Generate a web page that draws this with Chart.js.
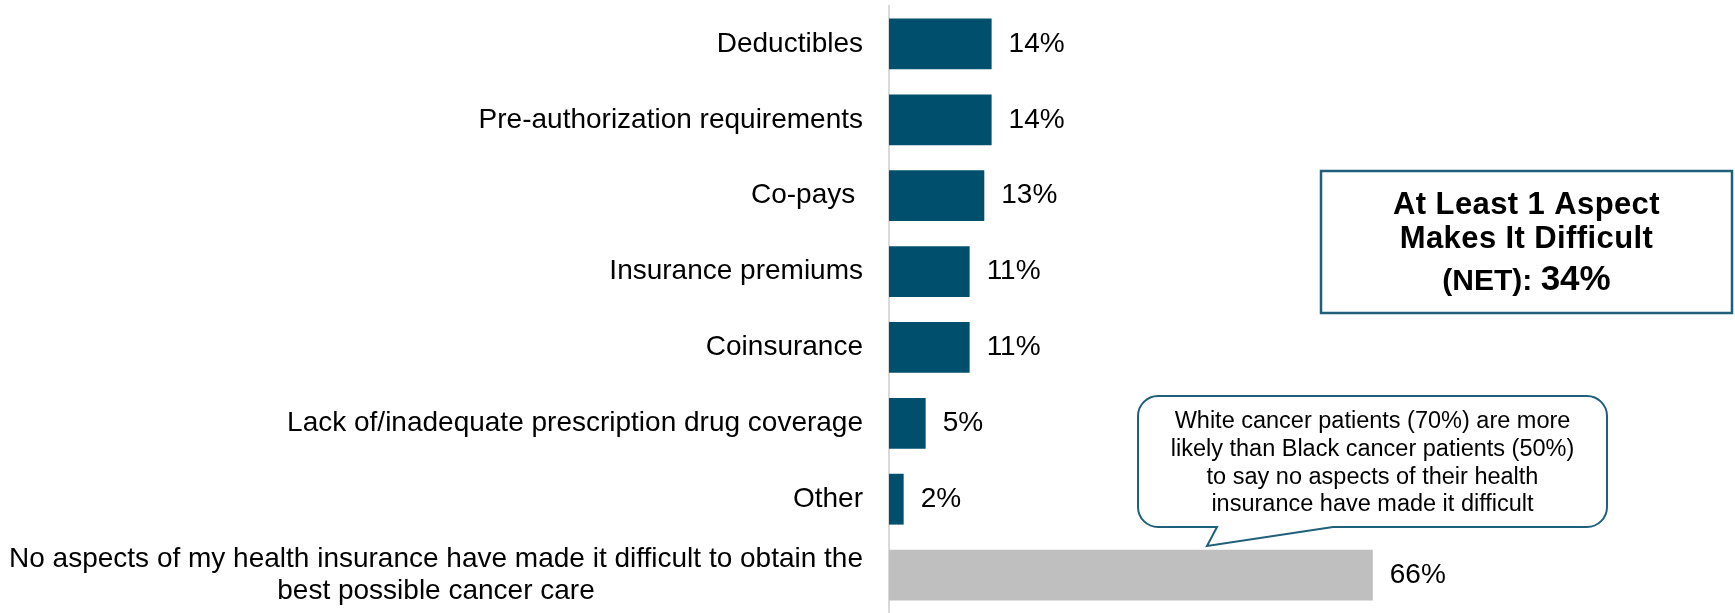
<!DOCTYPE html>
<html>
<head>
<meta charset="utf-8">
<script src="https://cdn.jsdelivr.net/npm/chart.js@4/dist/chart.umd.min.js"></script>
<style>
  html, body { margin: 0; padding: 0; background: #ffffff; }
  canvas { display: block; }
</style>
</head>
<body>
<canvas id="chart" width="1735" height="613"></canvas>
<script>
// Aspects of health insurance that made it difficult to obtain the best cancer care
const categories = [
  ['Deductibles'],
  ['Pre-authorization requirements'],
  ['Co-pays '],
  ['Insurance premiums'],
  ['Coinsurance'],
  ['Lack of/inadequate prescription drug coverage'],
  ['Other'],
  ['No aspects of my health insurance have made it difficult to obtain the', 'best possible cancer care']
];
const shares = [14, 14, 13, 11, 11, 5, 2, 66];
const barColors = ['#004F6D', '#004F6D', '#004F6D', '#004F6D', '#004F6D', '#004F6D', '#004F6D', '#BFBFBF'];

const netLines = ['At Least 1 Aspect', 'Makes It Difficult', '(NET): '];
const netValue = 34;

const calloutLines = [
  'White cancer patients (70%) are more',
  'likely than Black cancer patients (50%)',
  'to say no aspects of their health',
  'insurance have made it difficult'
];

const FONT = '"Liberation Sans", Arial, Helvetica, sans-serif';
const TEAL_LINE = '#1F5F7A';

// Category labels: each block right-aligned next to the axis, its lines centred
const categoryLabels = {
  id: 'categoryLabels',
  afterDraw(chart) {
    const { ctx, chartArea } = chart;
    const yScale = chart.scales.y;
    ctx.save();
    ctx.font = '28px ' + FONT;
    ctx.fillStyle = '#000000';
    ctx.textAlign = 'center';
    ctx.textBaseline = 'middle';
    const right = chartArea.left - 26;
    const lineHeight = 32;
    categories.forEach((lines, i) => {
      const cy = yScale.getPixelForValue(i);
      const widest = Math.max(...lines.map(l => ctx.measureText(l).width));
      const cx = right - widest / 2;
      lines.forEach((line, j) => {
        ctx.fillText(line, cx, cy + (j - (lines.length - 1) / 2) * lineHeight);
      });
    });
    ctx.restore();
  }
};

// Percentage labels at the end of each bar
const valueLabels = {
  id: 'valueLabels',
  afterDatasetsDraw(chart) {
    const { ctx } = chart;
    const meta = chart.getDatasetMeta(0);
    ctx.save();
    ctx.font = '28px ' + FONT;
    ctx.fillStyle = '#000000';
    ctx.textAlign = 'left';
    ctx.textBaseline = 'middle';
    meta.data.forEach((bar, i) => {
      ctx.fillText(shares[i] + '%', bar.x + 17, bar.y);
    });
    ctx.restore();
  }
};

// NET summary box and the speech-bubble note
const annotations = {
  id: 'annotations',
  afterDraw(chart) {
    const { ctx } = chart;
    ctx.save();

    // NET box
    const bx = 1321, by = 171, bw = 411, bh = 142;
    ctx.fillStyle = '#ffffff';
    ctx.fillRect(bx, by, bw, bh);
    ctx.strokeStyle = TEAL_LINE;
    ctx.lineWidth = 2.5;
    ctx.strokeRect(bx, by, bw, bh);

    const cx = bx + bw / 2;
    ctx.fillStyle = '#000000';
    ctx.textBaseline = 'alphabetic';
    ctx.textAlign = 'center';
    ctx.font = 'bold 31px ' + FONT;
    ctx.letterSpacing = '0.4px';
    ctx.fillText(netLines[0], cx, 214);
    ctx.fillText(netLines[1], cx, 248);
    ctx.letterSpacing = '0px';
    const valueText = netValue + '%';
    ctx.font = 'bold 30px ' + FONT;
    const w1 = ctx.measureText(netLines[2]).width;
    ctx.font = 'bold 35px ' + FONT;
    const w2 = ctx.measureText(valueText).width;
    const x = cx - (w1 + w2) / 2;
    ctx.textAlign = 'left';
    ctx.font = 'bold 30px ' + FONT;
    ctx.fillText(netLines[2], x, 290);
    ctx.font = 'bold 35px ' + FONT;
    ctx.fillText(valueText, x + w1, 290);

    // Speech bubble pointing at the "no aspects" bar
    const x0 = 1138, y0 = 396, x1 = 1607, y1 = 527, r = 20;
    const tailRight = 1333, tailLeft = 1217, tipX = 1207, tipY = 546;
    ctx.beginPath();
    ctx.moveTo(x0 + r, y0);
    ctx.lineTo(x1 - r, y0);
    ctx.arcTo(x1, y0, x1, y0 + r, r);
    ctx.lineTo(x1, y1 - r);
    ctx.arcTo(x1, y1, x1 - r, y1, r);
    ctx.lineTo(tailRight, y1);
    ctx.lineTo(tipX, tipY);
    ctx.lineTo(tailLeft, y1);
    ctx.lineTo(x0 + r, y1);
    ctx.arcTo(x0, y1, x0, y1 - r, r);
    ctx.lineTo(x0, y0 + r);
    ctx.arcTo(x0, y0, x0 + r, y0, r);
    ctx.closePath();
    ctx.fillStyle = '#ffffff';
    ctx.fill();
    ctx.strokeStyle = TEAL_LINE;
    ctx.lineWidth = 2;
    ctx.stroke();

    ctx.fillStyle = '#000000';
    ctx.textAlign = 'center';
    ctx.textBaseline = 'alphabetic';
    ctx.font = '23.5px ' + FONT;
    const bcx = (x0 + x1) / 2;
    calloutLines.forEach((line, i) => {
      ctx.fillText(line, bcx, 428 + i * 27.8);
    });

    ctx.restore();
  }
};

new Chart(document.getElementById('chart'), {
  type: 'bar',
  data: {
    labels: categories.map(lines => lines.join(' ')),
    datasets: [{
      data: shares,
      backgroundColor: barColors,
      borderWidth: 0,
      barPercentage: 0.67,
      categoryPercentage: 1
    }]
  },
  options: {
    indexAxis: 'y',
    responsive: false,
    animation: false,
    events: [],
    layout: { padding: { top: 6, right: 113, bottom: 0, left: 0 } },
    plugins: {
      legend: { display: false },
      tooltip: { enabled: false }
    },
    scales: {
      x: { display: false, min: 0, max: 100 },
      y: {
        grid: { display: false, drawTicks: false },
        border: { display: true, color: '#D9D9D9', width: 2 },
        ticks: { display: false },
        afterFit(scale) { scale.width = 889; }
      }
    }
  },
  plugins: [categoryLabels, valueLabels, annotations]
});
</script>
</body>
</html>
